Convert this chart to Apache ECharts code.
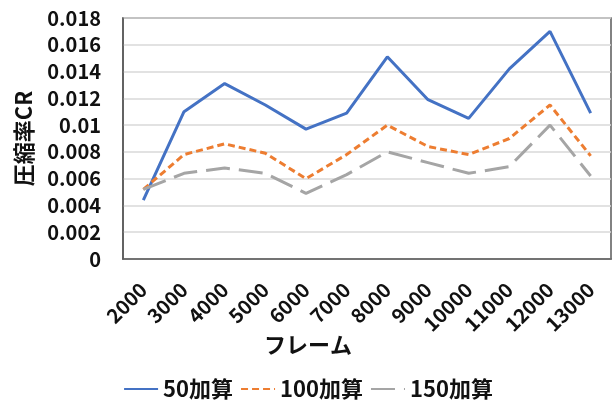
<!DOCTYPE html>
<html>
<head>
<meta charset="utf-8">
<script src="https://cdn.jsdelivr.net/npm/echarts@6/dist/echarts.min.js"></script>
<style>
  html, body { margin: 0; padding: 0; background: #fff; }
  #chart { width: 616px; height: 400px; }
</style>
</head>
<body>
<div id="chart"></div>
<script>
// フレーム数ごとの圧縮率
const frames = ['2000', '3000', '4000', '5000', '6000', '7000', '8000', '9000', '10000', '11000', '12000', '13000'];
const add50  = [0.0044, 0.0110, 0.0131, 0.0115, 0.0097, 0.0109, 0.0151, 0.0119, 0.0105, 0.0142, 0.0170, 0.0109];
const add100 = [0.0052, 0.0078, 0.0086, 0.0079, 0.0060, 0.0078, 0.0100, 0.0084, 0.0078, 0.0090, 0.0115, 0.0077];
const add150 = [0.0052, 0.0064, 0.0068, 0.0064, 0.0049, 0.0063, 0.0080, 0.0072, 0.0064, 0.0069, 0.0100, 0.0062];
const seriesNames = ['50加算', '100加算', '150加算'];

const FONT = '"Noto Sans CJK JP", "Noto Sans", sans-serif';
const TEXT = '#111';

const chart = echarts.init(document.getElementById('chart'), null, { renderer: 'canvas' });

function lineSeries(name, data, color, type, width) {
  return {
    name: name,
    type: 'line',
    data: data,
    symbol: 'none',
    smooth: false,
    lineStyle: { color: color, width: width, type: type, cap: 'butt' },
    itemStyle: { color: color },
    z: 3
  };
}

chart.setOption({
  animation: false,
  backgroundColor: '#fff',
  textStyle: { fontFamily: FONT },
  grid: {
    left: 123, right: 5, top: 18, bottom: 141,
    show: true, borderColor: '#595959', borderWidth: 1.5, backgroundColor: 'transparent'
  },
  legend: {
    data: seriesNames,
    top: 373,
    left: 'center',
    itemWidth: 34,
    itemHeight: 14,
    itemGap: 7,
    // legend keys show only the line stroke
    itemStyle: { opacity: 0 },
    textStyle: { fontFamily: FONT, fontWeight: 'bold', fontSize: 22, color: TEXT }
  },
  xAxis: {
    type: 'category',
    data: frames,
    boundaryGap: true,
    name: 'フレーム',
    nameLocation: 'middle',
    nameGap: 75,
    nameMoveOverlap: false,
    nameTextStyle: {
      fontFamily: FONT, fontWeight: 'bold', fontSize: 22, color: TEXT,
      padding: [0, 118, 0, 0]
    },
    axisLine: { show: true, lineStyle: { color: '#595959', width: 1.5 } },
    axisTick: { show: false },
    axisLabel: {
      rotate: 45, margin: 27, interval: 0,
      fontFamily: FONT, fontWeight: 'bold', fontSize: 20, color: TEXT
    },
    splitLine: { show: false }
  },
  yAxis: {
    type: 'value',
    min: 0, max: 0.018, interval: 0.002,
    name: '圧縮率CR',
    nameLocation: 'middle',
    nameGap: 88,
    nameRotate: 90,
    nameMoveOverlap: false,
    nameTextStyle: { fontFamily: FONT, fontWeight: 'bold', fontSize: 22, color: TEXT },
    axisLine: { show: true, lineStyle: { color: '#595959', width: 1.5 } },
    axisTick: { show: false },
    axisLabel: {
      margin: 22,
      fontFamily: FONT, fontWeight: 'bold', fontSize: 20, color: TEXT,
      formatter: v => String(+v.toFixed(3))
    },
    splitLine: { show: true, lineStyle: { color: '#d9d9d9', width: 1.5 } }
  },
  series: [
    lineSeries(seriesNames[0], add50, '#4472C4', 'solid', 3),
    lineSeries(seriesNames[1], add100, '#ED7D31', [7, 4], 3),
    lineSeries(seriesNames[2], add150, '#A5A5A5', [24, 9], 3)
  ]
});
</script>
</body>
</html>
